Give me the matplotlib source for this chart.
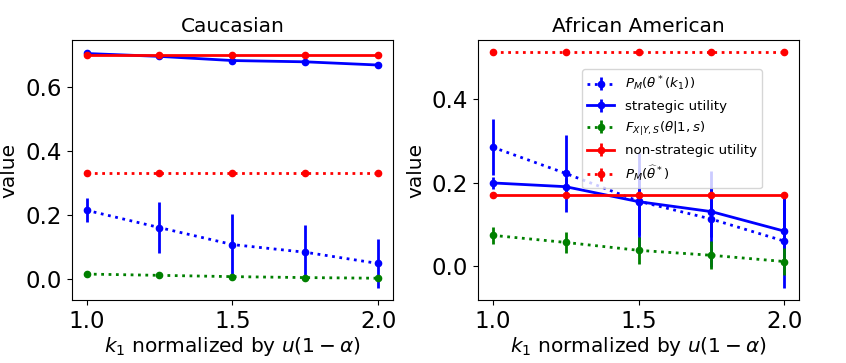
import numpy as np
import matplotlib
matplotlib.use("Agg")
import matplotlib.pyplot as plt

k1 = [1.0, 1.25, 1.5, 1.75, 2.0]

# Caucasian
cau_pm_k1 = [0.214, 0.160, 0.107, 0.083, 0.048]
cau_pm_k1_err = [0.037, 0.079, 0.095, 0.085, 0.077]
cau_strat = [0.703, 0.694, 0.681, 0.677, 0.667]
cau_strat_err = [0.005, 0.008, 0.010, 0.010, 0.005]
cau_F = [0.015, 0.011, 0.007, 0.004, 0.002]
cau_F_err = [0.002, 0.002, 0.002, 0.002, 0.002]
cau_nonstrat = [0.698, 0.698, 0.698, 0.698, 0.698]
cau_pm_hat = [0.331, 0.331, 0.331, 0.331, 0.331]

# African American
aa_pm_k1 = [0.285, 0.222, 0.155, 0.112, 0.059]
aa_pm_k1_err = [0.067, 0.092, 0.115, 0.116, 0.113]
aa_strat = [0.199, 0.190, 0.154, 0.130, 0.083]
aa_strat_err = [0.015, 0.020, 0.080, 0.060, 0.085]
aa_F = [0.073, 0.056, 0.037, 0.025, 0.010]
aa_F_err = [0.020, 0.026, 0.033, 0.034, 0.032]
aa_nonstrat = [0.170, 0.170, 0.170, 0.170, 0.170]
aa_pm_hat = [0.514, 0.514, 0.514, 0.514, 0.514]

labels = [r"$P_M(\theta^*(k_1))$", "strategic utility",
          r"$F_{X|Y,S}(\theta|1,s)$", "non-strategic utility",
          r"$P_M(\widehat{\theta}^*)$"]


def plot_panel(ax, title, pm_k1, pm_k1_err, strat, strat_err, F, F_err,
               nonstrat, pm_hat):
    kw = dict(marker="o", markersize=4.5, elinewidth=2, capsize=0)
    ax.errorbar(k1, pm_k1, yerr=pm_k1_err, color="blue", linestyle=":",
                linewidth=2, label=labels[0], **kw)
    ax.errorbar(k1, strat, yerr=strat_err, color="blue", linestyle="-",
                linewidth=2, label=labels[1], **kw)
    ax.errorbar(k1, F, yerr=F_err, color="green", linestyle=":",
                linewidth=2, label=labels[2], **kw)
    ax.errorbar(k1, nonstrat, yerr=np.zeros(5), color="red", linestyle="-",
                linewidth=2, label=labels[3], **kw)
    ax.errorbar(k1, pm_hat, yerr=np.zeros(5), color="red", linestyle=":",
                linewidth=2, label=labels[4], **kw)
    ax.set_title(title, fontsize=14.5)
    ax.set_xlabel(r"$k_1$ normalized by $u(1-\alpha)$", fontsize=14.5, labelpad=2)
    ax.set_ylabel("value", fontsize=14.5, labelpad=5)
    ax.set_xticks([1.0, 1.5, 2.0])
    ax.tick_params(labelsize=16.5)


fig = plt.figure(figsize=(8.46, 3.63), dpi=100)
ax1 = fig.add_axes([0.085, 0.1736, 0.3795, 0.716])
ax2 = fig.add_axes([0.565, 0.1736, 0.3795, 0.716])

plot_panel(ax1, "Caucasian", cau_pm_k1, cau_pm_k1_err, cau_strat,
           cau_strat_err, cau_F, cau_F_err, cau_nonstrat, cau_pm_hat)
plot_panel(ax2, "African American", aa_pm_k1, aa_pm_k1_err, aa_strat,
           aa_strat_err, aa_F, aa_F_err, aa_nonstrat, aa_pm_hat)
ax1.set_yticks([0.0, 0.2, 0.4, 0.6])
ax2.set_yticks([0.0, 0.2, 0.4])

ax2.legend(loc="upper right", bbox_to_anchor=(0.885, 0.888), borderaxespad=0,
           fontsize=9.6)

fig.savefig("out.png", dpi=100)
